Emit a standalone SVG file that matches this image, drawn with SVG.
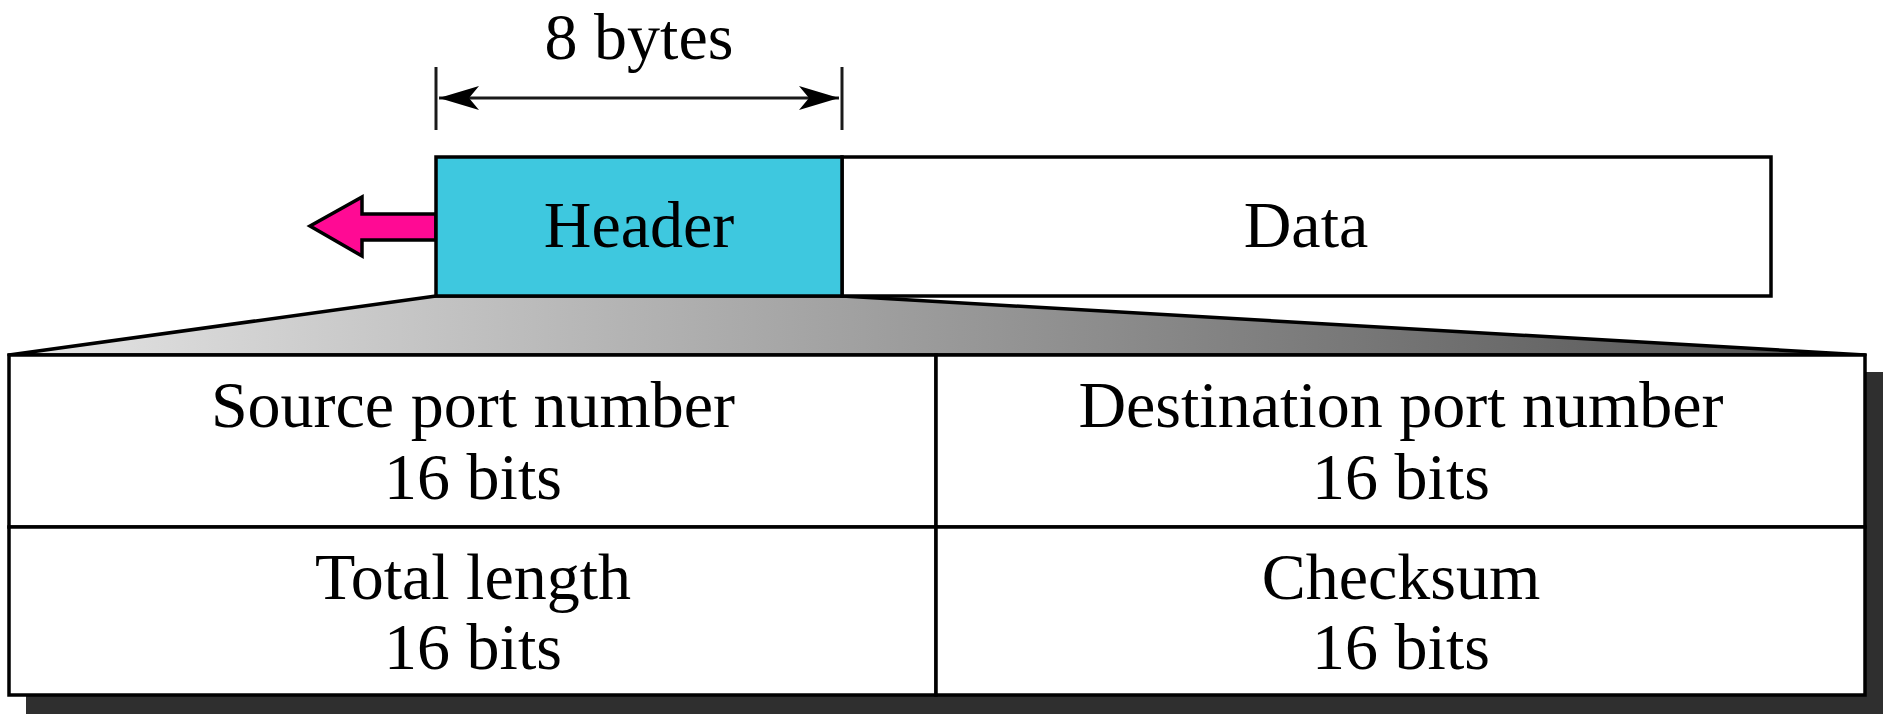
<svg xmlns="http://www.w3.org/2000/svg" width="1894" height="724" viewBox="0 0 1894 724">
  <style>
    .t { font-family: "Liberation Serif", "Times New Roman", serif; font-size: 66px; fill: #000; text-anchor: middle; }
    .box { stroke: #000; stroke-width: 3.5; }
    .cell { fill: #fff; stroke: #000; stroke-width: 3.5; }
    .dim { stroke: #1a1a1a; stroke-width: 3; fill: none; }
  </style>
  <defs>
    <linearGradient id="grad" gradientUnits="userSpaceOnUse" x1="9" y1="0" x2="1865" y2="0">
      <stop offset="0" stop-color="#e6e6e6"/>
      <stop offset="1" stop-color="#4e4e4e"/>
    </linearGradient>
    <marker id="barb" viewBox="0 0 40 24" refX="40" refY="12" markerWidth="40" markerHeight="24" markerUnits="userSpaceOnUse" orient="auto-start-reverse">
      <path d="M40,12 L0,0 L10,12 L0,24 Z" fill="#000"/>
    </marker>
  </defs>

  <g id="dimension">
    <line class="dim" x1="436" y1="67" x2="436" y2="130"/>
    <line class="dim" x1="842" y1="67" x2="842" y2="130"/>
    <text class="t" x="639" y="59">8 bytes</text>
  </g>

  <g id="connectors">
    <line class="dim" x1="439" y1="98" x2="839" y2="98" marker-start="url(#barb)" marker-end="url(#barb)"/>
    <polygon points="436,296 842,296 1865,355 9,355" fill="url(#grad)" stroke="#000" stroke-width="3.5" stroke-linejoin="round"/>
    <polygon points="310,226 362,197 362,214 436,214 436,240 362,240 362,256" fill="#ff0a94" stroke="#000" stroke-width="3.5" stroke-linejoin="miter"/>
  </g>

  <g id="data">
    <rect class="box" x="842" y="157" width="929" height="139" fill="#fff"/>
    <text class="t" x="1306" y="247">Data</text>
  </g>

  <g id="header">
    <rect class="box" x="436" y="157" width="406" height="139" fill="#3ec8df"/>
    <text class="t" x="639" y="247">Header</text>
  </g>

  <g id="header-detail">
    <rect x="26" y="372" width="1857" height="342" fill="#2f2f2f"/>
    <g id="source-port">
      <rect class="cell" x="9" y="355" width="927" height="172"/>
      <text class="t" x="473" y="427">Source port number</text>
      <text class="t" x="473" y="499">16 bits</text>
    </g>
    <g id="destination-port">
      <rect class="cell" x="936" y="355" width="929" height="172"/>
      <text class="t" x="1401" y="427">Destination port number</text>
      <text class="t" x="1401" y="499">16 bits</text>
    </g>
    <g id="total-length">
      <rect class="cell" x="9" y="527" width="927" height="168"/>
      <text class="t" x="473" y="599">Total length</text>
      <text class="t" x="473" y="669">16 bits</text>
    </g>
    <g id="checksum">
      <rect class="cell" x="936" y="527" width="929" height="168"/>
      <text class="t" x="1401" y="599">Checksum</text>
      <text class="t" x="1401" y="669">16 bits</text>
    </g>
  </g>
</svg>
